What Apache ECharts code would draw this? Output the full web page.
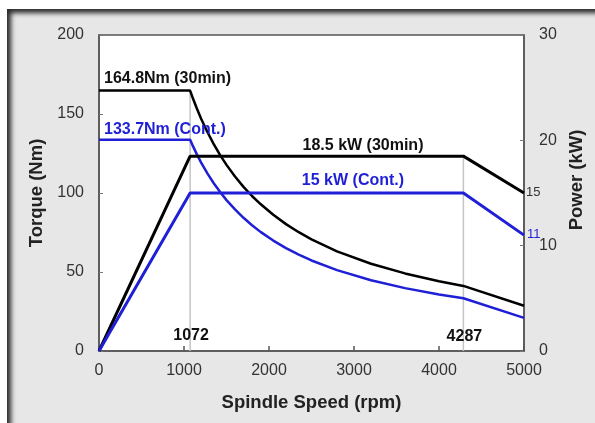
<!DOCTYPE html>
<html>
<head>
<meta charset="utf-8">
<script src="https://cdn.jsdelivr.net/npm/echarts@6/dist/echarts.min.js"></script>
<style>
  html, body { margin: 0; padding: 0; background: #ffffff; }
  #frame { position: absolute; left: 7px; top: 9px; width: 588px; height: 414px;
           background: #e7e7e7; box-shadow: inset 5px 5px 5px -1px #2a2a2a; }
  #chart { position: absolute; left: 0; top: 0; width: 595px; height: 423px; }
</style>
</head>
<body>
<div id="frame"></div>
<div id="chart"></div>
<script>
// ---- data ----
const speedTorque = [0, 1072, 1100, 1150, 1200, 1275, 1350, 1425, 1500, 1600, 1700, 1800, 1900, 2050, 2200, 2350, 2500, 2800, 3200, 3600, 4000, 4287, 5000];
const torque30min = [164.8, 164.8, 160.6, 153.6, 147.2, 138.6, 130.9, 124.0, 117.8, 110.4, 103.9, 98.1, 93.0, 86.2, 80.3, 75.2, 70.7, 63.1, 55.2, 49.1, 44.2, 41.2, 28.6];
const torqueCont  = [133.7, 133.7, 130.3, 124.6, 119.4, 112.4, 106.2, 100.6, 95.5, 89.6, 84.3, 79.6, 75.4, 69.9, 65.1, 61.0, 57.3, 51.2, 44.8, 39.8, 35.8, 33.4, 21.0];
const speedPower  = [0, 1072, 4287, 5000];
const power30min  = [0, 18.5, 18.5, 15];
const powerCont   = [0, 15, 15, 11];
const baseSpeed   = 1072;
const maxPowerSpeed = 4287;
const xTicks = [0, 1000, 2000, 3000, 4000, 5000];
const torqueTicks = [0, 50, 100, 150, 200];
const powerTicks = [0, 10, 20, 30];

const BLUE = '#1f1fd6';
const FONT = 'Liberation Sans, Arial, sans-serif';

const zip = (xs, ys) => xs.map((x, i) => [x, ys[i]]);

const chart = echarts.init(document.getElementById('chart'), null, { renderer: 'canvas' });

const annot = (coord, text, color, opts) => ({
  coord: coord, symbolSize: 0,
  label: Object.assign({
    show: true, position: 'inside', formatter: text, color: color,
    fontFamily: FONT, fontSize: 16, fontWeight: 'bold'
  }, opts)
});

const option = {
  backgroundColor: 'transparent',
  animation: false,
  grid: { left: 99, right: 71, top: 35, bottom: 72, show: true, borderColor: '#555', borderWidth: 1.5, backgroundColor: '#ffffff' },
  xAxis: {
    type: 'value', min: xTicks[0], max: xTicks[xTicks.length - 1], interval: 1000,
    name: 'Spindle Speed (rpm)', nameLocation: 'middle', nameGap: 42,
    nameTextStyle: { fontFamily: FONT, fontSize: 18.5, fontWeight: 'bold', color: '#222' },
    axisLine: { show: true, lineStyle: { color: '#555', width: 1.5 } },
    axisTick: { show: true, inside: true, length: 5, lineStyle: { color: '#555', width: 1.5 } },
    axisLabel: { fontFamily: FONT, fontSize: 16, color: '#333', margin: 12, formatter: v => String(v) },
    splitLine: { show: false }
  },
  yAxis: [{
    type: 'value', min: torqueTicks[0], max: torqueTicks[torqueTicks.length - 1], interval: 50,
    name: 'Torque (Nm)', nameLocation: 'middle', nameGap: 53, nameRotate: 90,
    nameTextStyle: { fontFamily: FONT, fontSize: 18.5, fontWeight: 'bold', color: '#222' },
    axisLine: { show: true, lineStyle: { color: '#555', width: 1.5 } },
    axisTick: { show: true, inside: true, length: 4, lineStyle: { color: '#777', width: 1 } },
    axisLabel: { fontFamily: FONT, fontSize: 16, color: '#333', margin: 15, formatter: v => String(v) },
    splitLine: { show: false }
  }, {
    type: 'value', min: powerTicks[0], max: powerTicks[powerTicks.length - 1], interval: 10,
    position: 'right',
    name: 'Power (kW)', nameLocation: 'middle', nameGap: 43, nameRotate: 90,
    nameTextStyle: { fontFamily: FONT, fontSize: 18.5, fontWeight: 'bold', color: '#222', padding: [0, 0, 0, 26] },
    axisLine: { show: true, lineStyle: { color: '#555', width: 1.5 } },
    axisTick: { show: true, inside: true, length: 4, lineStyle: { color: '#777', width: 1 } },
    axisLabel: { fontFamily: FONT, fontSize: 16, color: '#333', margin: 15, formatter: v => String(v) },
    splitLine: { show: false }
  }],
  series: [
    { type: 'line', xAxisIndex: 0, yAxisIndex: 0, z: 1, symbol: 'none', silent: true,
      data: [[baseSpeed, 0], [baseSpeed, torque30min[1]]],
      lineStyle: { color: '#c4c4c4', width: 1.5 } },
    { type: 'line', xAxisIndex: 0, yAxisIndex: 1, z: 1, symbol: 'none', silent: true,
      data: [[maxPowerSpeed, 0], [maxPowerSpeed, power30min[2]]],
      lineStyle: { color: '#c4c4c4', width: 1.5 },
      markPoint: { data: [
        annot([baseSpeed, 0], String(baseSpeed), '#111', { offset: [1, -15] }),
        annot([maxPowerSpeed, 0], String(maxPowerSpeed), '#111', { offset: [1, -14] })
      ] } },
    { type: 'line', name: 'Torque 30min', yAxisIndex: 0, z: 3, symbol: 'none',
      data: zip(speedTorque, torque30min), lineStyle: { color: '#000', width: 2.5 },
      markPoint: { data: [
        annot([0, torque30min[0]], '164.8Nm (30min)', '#111', { align: 'left', offset: [5, -12] })
      ] } },
    { type: 'line', name: 'Torque Cont', yAxisIndex: 0, z: 3, symbol: 'none',
      data: zip(speedTorque, torqueCont), lineStyle: { color: BLUE, width: 2.5 },
      markPoint: { data: [
        annot([0, torqueCont[0]], '133.7Nm (Cont.)', BLUE, { align: 'left', offset: [5, -10] })
      ] } },
    { type: 'line', name: 'Power 30min', yAxisIndex: 1, z: 3, symbol: 'none',
      data: zip(speedPower, power30min), lineStyle: { color: '#000', width: 3 },
      markPoint: { data: [
        annot([3106, power30min[1]], '18.5 kW (30min)', '#111', { offset: [0, -11] }),
        annot([5000, power30min[3]], String(power30min[3]), '#333', { align: 'left', fontSize: 13, fontWeight: 'normal', offset: [2, -1] })
      ] } },
    { type: 'line', name: 'Power Cont', yAxisIndex: 1, z: 3, symbol: 'none',
      data: zip(speedPower, powerCont), lineStyle: { color: BLUE, width: 3 },
      markPoint: { data: [
        annot([2988, powerCont[1]], '15 kW (Cont.)', BLUE, { offset: [0, -12] }),
        annot([5000, powerCont[3]], String(powerCont[3]), BLUE, { align: 'left', fontSize: 13, fontWeight: 'normal', offset: [3, -1] })
      ] } }
  ]
};
chart.setOption(option);
</script>
</body>
</html>
